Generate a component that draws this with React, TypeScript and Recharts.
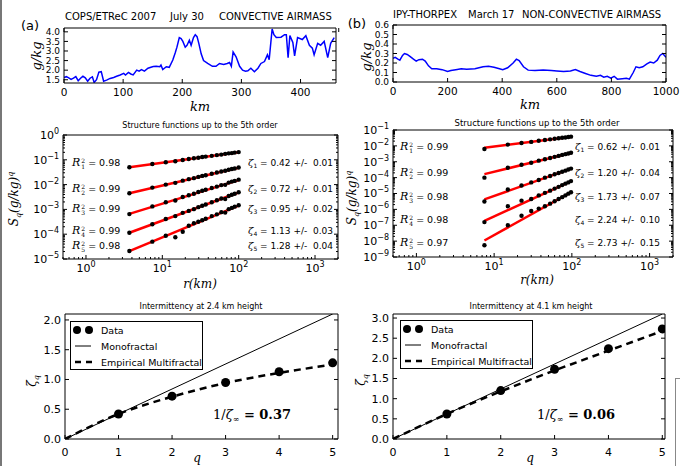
import React from "react"
import { Legend, Line, LineChart, XAxis, YAxis } from "recharts"

const SANS = "'DejaVu Sans', sans-serif"
const SERIF = "'DejaVu Serif', serif"

// (a) COPS flight, specific humidity along track
const kmA = [0, 4, 8, 12, 16, 20, 24, 28, 32, 36, 40, 44, 48, 51, 55, 59, 63, 67, 72, 78, 84, 89, 95, 101, 104, 109, 113, 117, 123, 127, 131, 136, 142, 147, 151, 156, 162, 164, 167, 173, 178, 184, 188, 191, 195, 198, 201, 205, 208, 212, 215, 219, 222, 225, 228, 232, 236, 243, 251, 257, 263, 270, 276, 280, 283, 286, 291, 297, 302, 307, 311, 316, 322, 328, 333, 339, 344, 347, 352, 355, 359, 367, 373, 376, 379, 382, 387, 390, 395, 403, 409, 415, 420, 423, 429, 434, 440, 446, 451, 457]
const humA = [1.62, 1.66, 1.6, 1.52, 1.58, 1.66, 1.45, 1.58, 1.68, 1.6, 1.42, 1.58, 1.65, 1.36, 1.5, 1.9, 1.92, 1.42, 1.48, 1.57, 1.62, 1.68, 1.75, 1.83, 1.75, 1.88, 1.8, 1.75, 2.0, 1.95, 2.03, 1.95, 2.1, 2.15, 2.19, 2.2, 2.18, 2.27, 2.03, 2.18, 2.15, 2.53, 2.9, 3.2, 3.7, 3.65, 3.5, 3.2, 3.3, 3.56, 3.3, 3.7, 3.85, 3.75, 3.4, 2.85, 2.5, 2.35, 2.2, 2.2, 2.35, 2.3, 2.35, 2.4, 2.2, 2.95, 2.7, 2.2, 2.0, 1.95, 1.97, 2.1, 1.92, 2.1, 2.35, 2.45, 2.8, 2.55, 4.15, 3.85, 3.7, 3.72, 3.85, 3.85, 2.65, 3.8, 3.45, 2.75, 3.7, 3.6, 3.8, 3.3, 3.15, 2.8, 3.4, 3.3, 3.5, 2.65, 3.4, 3.7]

// (b) IPY-THORPEX flight
const kmB = [0, 8, 18, 25, 35, 42, 52, 62, 75, 85, 95, 108, 118, 130, 142, 160, 180, 200, 212, 230, 250, 270, 300, 330, 350, 370, 390, 402, 420, 440, 452, 462, 478, 495, 520, 550, 580, 600, 625, 650, 668, 685, 705, 725, 745, 760, 772, 785, 798, 810, 822, 840, 855, 866, 880, 890, 902, 915, 930, 942, 955, 968, 978, 988, 1000]
const humB = [0.25, 0.26, 0.24, 0.23, 0.28, 0.3, 0.29, 0.27, 0.24, 0.22, 0.235, 0.24, 0.22, 0.17, 0.14, 0.14, 0.13, 0.11, 0.12, 0.13, 0.14, 0.135, 0.14, 0.16, 0.165, 0.155, 0.14, 0.13, 0.15, 0.2, 0.24, 0.225, 0.16, 0.125, 0.12, 0.125, 0.12, 0.115, 0.11, 0.115, 0.13, 0.11, 0.09, 0.07, 0.06, 0.07, 0.05, 0.06, 0.04, 0.06, 0.03, 0.035, 0.04, 0.03, 0.1, 0.16, 0.15, 0.16, 0.19, 0.21, 0.2, 0.23, 0.28, 0.3, 0.26]

// structure functions, log10 S_q(r)
const lagA = [3.7, 7.4, 11.1, 14.8, 18.5, 22.2, 25.9, 29.6, 33.3, 37, 44.4, 51.8, 59.2, 66.6, 74, 81.4, 88.8, 100]
const sA1 = [-1.3, -1.17, -1.1, -1.06, -1.01, -0.97, -0.94, -0.92, -0.89, -0.87, -0.84, -0.81, -0.79, -0.76, -0.74, -0.73, -0.71, -0.69]
const sA2 = [-2.35, -2.12, -2.0, -1.93, -1.84, -1.78, -1.74, -1.69, -1.65, -1.62, -1.56, -1.51, -1.47, -1.44, -1.4, -1.37, -1.35, -1.31]
const sA3 = [-3.19, -2.88, -2.71, -2.64, -2.5, -2.43, -2.37, -2.3, -2.25, -2.21, -2.14, -2.08, -2.02, -2.01, -1.92, -1.88, -1.85, -1.8]
const sA4 = [-3.94, -3.6, -3.39, -3.27, -3.14, -3.06, -2.99, -2.91, -2.85, -2.8, -2.71, -2.63, -2.56, -2.58, -2.46, -2.41, -2.37, -2.31]
const sA5 = [-4.68, -4.3, -4.06, -4.12, -3.9, -3.66, -3.56, -3.5, -3.44, -3.38, -3.27, -3.2, -3.11, -3.13, -2.99, -2.94, -2.89, -2.83]
const fitLagA = [3.7, 100]
const fitA = [[-1.3, -0.7], [-2.35, -1.32], [-3.18, -1.82], [-3.94, -2.32], [-4.68, -2.85]]

const lagB = [7.5, 15, 22.5, 30, 37.5, 45, 52.5, 60, 67.5, 75, 82.5, 90, 97.5]
const sB1 = [-2.2, -1.92, -1.82, -1.75, -1.68, -1.63, -1.59, -1.55, -1.52, -1.49, -1.47, -1.44, -1.42]
const sB2 = [-4.0, -3.38, -3.19, -3.06, -2.93, -2.84, -2.76, -2.69, -2.63, -2.57, -2.52, -2.48, -2.43]
const sB3 = [-5.5, -4.75, -4.5, -4.3, -4.15, -4.0, -3.9, -3.79, -3.71, -3.63, -3.56, -3.49, -3.43]
const sB4 = [-6.8, -5.8, -5.45, -5.35, -5.12, -4.96, -4.82, -4.69, -4.58, -4.47, -4.38, -4.3, -4.22]
const sB5 = [-8.26, -7.0, -6.4, -6.1, -5.95, -5.8, -5.64, -5.49, -5.35, -5.23, -5.12, -5.01, -4.92]
const fitLagB = [7.5, 100]
const fitB = [[-2.12, -1.42], [-3.78, -2.43], [-5.37, -3.42], [-6.72, -4.2], [-7.96, -4.89]]

const r2A = [0.98, 0.99, 0.99, 0.99, 0.98]
const r2B = [0.99, 0.99, 0.98, 0.98, 0.97]
const errA = [0.01, 0.01, 0.02, 0.03, 0.04]
const errB = [0.01, 0.04, 0.07, 0.1, 0.15]

// scaling exponents
const orders = [1, 2, 3, 4, 5]
const zetaA = [0.42, 0.72, 0.95, 1.13, 1.28]
const zetaB = [0.62, 1.2, 1.73, 2.24, 2.73]
const monoQ = [0, 5]
const monoA = [0, 2.1]
const monoB = [0, 3.1]
const multiQ = [0, 1, 2, 3, 4, 5]
const multiA = [0, 0.42, 0.71, 0.94, 1.11, 1.25]
const multiB = [0, 0.62, 1.18, 1.7, 2.19, 2.68]

const pts = (xs: number[], ys: number[]) => xs.map((x, i) => ({ x, y: ys[i] }))
const logPts = (xs: number[], ys: number[]) => xs.map((x, i) => ({ x, y: 10 ** ys[i] }))

function logTicks(lo: number, hi: number) {
  const out: number[] = []
  for (let e = Math.floor(Math.log10(lo)); e <= Math.ceil(Math.log10(hi)); e++)
    for (let k = 1; k < 10; k++) {
      const v = k * 10 ** e
      if (v >= lo * 0.999 && v <= hi * 1.001) out.push(v)
    }
  return out
}

function tick(side: string, log?: boolean, fmt?: (v: number) => string, off = 13, size = 11) {
  return (p: any) => {
    const { x, y } = p
    const v: number = p.payload.value
    const e = Math.log10(v)
    const major = !log || Math.abs(e - Math.round(e)) < 1e-6
    const n = major ? 4 : 2
    const d =
      side === "bottom" ? `M${x},${y}v${-n}` : side === "top" ? `M${x},${y}v${n}` : side === "left" ? `M${x},${y}h${n}` : `M${x},${y}h${-n}`
    const labelled = major && (side === "bottom" || side === "left")
    return (
      <g>
        <path d={d} stroke="#000" strokeWidth={1} />
        {labelled && (
          <text
            x={side === "left" ? x - 4 : x}
            y={side === "left" ? y + size * 0.36 : y + off}
            textAnchor={side === "left" ? "end" : "middle"}
            fontSize={size}
            fontFamily={SANS}
            fill="#000"
          >
            {log ? (
              <>
                <tspan>10</tspan>
                <tspan dy={-5} fontSize={8}>{String(Math.round(e)).replace("-", "−")}</tspan>
              </>
            ) : fmt ? fmt(v) : v}
          </text>
        )}
      </g>
    )
  }
}

type AxOpts = {
  x: number[]; y: number[]; xt: number[]; yt: number[]
  xLog?: boolean; yLog?: boolean
  xFmt?: (v: number) => string; yFmt?: (v: number) => string
  off?: number; size?: number; ySize?: number
}

function axes(o: AxOpts) {
  const base = {
    type: "number" as const,
    allowDataOverflow: true,
    tickSize: 0,
    tickMargin: 0,
    tickLine: false,
    interval: 0 as const,
    axisLine: { stroke: "#000", strokeWidth: 1 },
  }
  const xs = o.xLog ? "log" : "linear"
  const ys = o.yLog ? "log" : "linear"
  return [
    <XAxis key="xb" dataKey="x" {...base} scale={xs} domain={o.x} ticks={o.xt} height={20} tick={tick("bottom", o.xLog, o.xFmt, o.off, o.size)} />,
    <XAxis key="xt" xAxisId="top" orientation="top" {...base} scale={xs} domain={o.x} ticks={o.xt} height={1} tick={tick("top", o.xLog)} />,
    <YAxis key="yl" {...base} scale={ys} domain={o.y} ticks={o.yt} width={40} tick={tick("left", o.yLog, o.yFmt, 0, o.ySize ?? o.size)} />,
    <YAxis key="yr" yAxisId="right" orientation="right" {...base} scale={ys} domain={o.y} ticks={o.yt} width={1} tick={tick("right", o.yLog)} />,
  ]
}

function Panel({ box, data, children }: { box: number[]; data?: any[]; children: React.ReactNode }) {
  const [L, T, W, H] = box
  return (
    <div style={{ position: "absolute", left: L - 40, top: T - 9 }}>
      <LineChart width={W + 61} height={H + 29} data={data} margin={{ top: 8, right: 20, bottom: 0, left: 0 }}>
        {children}
      </LineChart>
    </div>
  )
}

function Txt({ x, y, size = 10, font = SANS, italic = false, anchor = "start", rotate = false, children }: any) {
  const tx = anchor === "middle" ? "-50%" : anchor === "end" ? "-100%" : "0"
  return (
    <div
      style={{
        position: "absolute",
        left: x,
        top: y,
        transform: `translate(${tx}, -50%)${rotate ? " rotate(-90deg)" : ""}`,
        whiteSpace: "pre",
        fontSize: size,
        fontFamily: font,
        fontStyle: italic ? "italic" : "normal",
        lineHeight: 1,
        color: "#000",
      }}
    >
      {children}
    </div>
  )
}

function Fits({ rows, xL, xZ, ys, r2, zeta, err }: any) {
  return (
    <>
      {ys.map((y: number, i: number) => (
        <Txt key={"r" + i} x={xL} y={y} size={9.5}>
          <span style={{ fontFamily: SERIF, fontStyle: "italic", fontSize: 11 }}>R</span>
          <span style={{ display: "inline-flex", flexDirection: "column", fontSize: 6, lineHeight: "6px", fontFamily: SERIF, verticalAlign: "middle", marginLeft: 1 }}>
            <span>2</span>
            <span>{rows[i]}</span>
          </span>
          {" = " + r2[i].toFixed(2)}
        </Txt>
      ))}
      {ys.map((y: number, i: number) => (
        <Txt key={"z" + i} x={xZ} y={y} size={9}>
          <span style={{ fontFamily: SERIF, fontStyle: "italic", fontSize: 10 }}>ζ</span>
          <span style={{ fontSize: 6, verticalAlign: "-2px" }}>{rows[i]}</span>
          {" = " + zeta[i].toFixed(2) + " +/-  " + err[i].toFixed(2)}
        </Txt>
      ))}
    </>
  )
}

function LegendBox() {
  const row = { display: "flex", alignItems: "center", height: 16 }
  return (
    <div style={{ width: 133, height: 49, border: "1.5px solid #000", boxSizing: "border-box", background: "#fff", fontFamily: SANS, fontSize: 9.5, color: "#000" }}>
      <div style={row}>
        <svg width={28} height={12}><circle cx={6} cy={6} r={4} fill="#000" /><circle cx={18} cy={6} r={4} fill="#000" /></svg>
        <span style={{ marginLeft: 2 }}>Data</span>
      </div>
      <div style={row}>
        <svg width={28} height={12}><line x1={4} x2={20} y1={6} y2={6} stroke="#000" strokeWidth={1} /></svg>
        <span style={{ marginLeft: 2 }}>Monofractal</span>
      </div>
      <div style={row}>
        <svg width={28} height={12}><line x1={4} x2={21} y1={6} y2={6} stroke="#000" strokeWidth={2.5} strokeDasharray="6 5" /></svg>
        <span style={{ marginLeft: 2 }}>Empirical Multifractal</span>
      </div>
    </div>
  )
}

const oneDec = (v: number) => v.toFixed(1)
const sA = [sA1, sA2, sA3, sA4, sA5]
const sB = [sB1, sB2, sB3, sB4, sB5]

function StructPanel({ box, lag, s, fitLag, fit, y }: any) {
  return (
    <Panel box={box}>
      {axes({ x: [0.5, 2000], y, xt: logTicks(0.5, 2000), yt: logTicks(y[0], y[1]), xLog: true, yLog: true, off: 13 })}
      {fit.map((f: number[], i: number) => (
        <Line key={"f" + i} data={logPts(fitLag, f)} dataKey="y" stroke="#ff0000" strokeWidth={2.5} dot={false} isAnimationActive={false} />
      ))}
      {s.map((v: number[], i: number) => (
        <Line key={"s" + i} data={logPts(lag, v)} dataKey="y" stroke="none" dot={{ r: 2.2, fill: "#000", stroke: "none" }} isAnimationActive={false} />
      ))}
    </Panel>
  )
}

function ZetaPanel({ box, xMax, yMax, yt, mono, multi, zeta, legendAt }: any) {
  return (
    <Panel box={box}>
      {axes({ x: [0, xMax], y: [0, yMax], xt: [0, 1, 2, 3, 4, 5], yt, yFmt: oneDec, off: 17 })}
      <Line data={pts(monoQ, mono)} dataKey="y" stroke="#000" strokeWidth={1} dot={false} isAnimationActive={false} />
      <Line data={pts(multiQ, multi)} dataKey="y" type="monotone" stroke="#000" strokeWidth={2.5} strokeDasharray="7 5" dot={false} isAnimationActive={false} />
      <Line data={pts(orders, zeta)} dataKey="y" stroke="none" dot={{ r: 4.5, fill: "#000", stroke: "none" }} isAnimationActive={false} />
      <Legend
        layout="vertical"
        align="center"
        verticalAlign="middle"
        content={() => <LegendBox />}
        wrapperStyle={{ left: legendAt[0], top: legendAt[1], width: 133, height: 49 }}
      />
    </Panel>
  )
}

export default function App() {
  return (
    <div style={{ position: "absolute", left: 0, top: 0, width: 680, height: 466, background: "#fff", overflow: "hidden", fontFamily: SANS }}>
      {/* top row: humidity series */}
      <Panel box={[64, 28, 272, 55]} data={pts(kmA, humA)}>
        {axes({ x: [0, 460], y: [1.33, 4.2], xt: [0, 100, 200, 300, 400], yt: [1.5, 2, 2.5, 3, 3.5, 4], yFmt: oneDec, off: 13, size: 10.5, ySize: 9 })}
        <Line dataKey="y" stroke="#0000ff" strokeWidth={1.5} dot={false} isAnimationActive={false} />
      </Panel>
      <Panel box={[393, 25, 273, 57]} data={pts(kmB, humB)}>
        {axes({ x: [0, 1000], y: [0, 0.6], xt: [0, 200, 400, 600, 800, 1000], yt: [0, 0.1, 0.2, 0.3, 0.4, 0.5, 0.6], yFmt: oneDec, off: 13, size: 10.5, ySize: 9 })}
        <Line dataKey="y" stroke="#0000ff" strokeWidth={1.5} dot={false} isAnimationActive={false} />
      </Panel>

      <Txt x={30} y={25} size={13} anchor="middle">(a)</Txt>
      <Txt x={65} y={17}>COPS/ETReC 2007</Txt>
      <Txt x={170} y={17}>July 30</Txt>
      <Txt x={219} y={17}>CONVECTIVE AIRMASS</Txt>
      <Txt x={357} y={23} size={13} anchor="middle">(b)</Txt>
      <Txt x={393} y={15}>IPY-THORPEX</Txt>
      <Txt x={468} y={15}>March 17</Txt>
      <Txt x={522} y={15}>NON-CONVECTIVE AIRMASS</Txt>
      <Txt x={36} y={56} size={13} font={SERIF} italic anchor="middle" rotate>g/kg</Txt>
      <Txt x={366} y={57} size={13} font={SERIF} italic anchor="middle" rotate>g/kg</Txt>
      <Txt x={200} y={106} size={13} font={SERIF} italic anchor="middle">km</Txt>
      <Txt x={530} y={104} size={13} font={SERIF} italic anchor="middle">km</Txt>

      {/* middle row: structure functions */}
      <StructPanel box={[63, 135, 275, 124]} lag={lagA} s={sA} fitLag={fitLagA} fit={fitA} y={[1e-5, 1]} />
      <StructPanel box={[393, 130, 280, 127]} lag={lagB} s={sB} fitLag={fitLagB} fit={fitB} y={[1e-9, 1e-1]} />

      <Txt x={200} y={126} size={8} anchor="middle">Structure functions up to the 5th order</Txt>
      <Txt x={537} y={123} size={8.5} anchor="middle">Structure functions up to the 5th order</Txt>
      {[[15, 199], [353, 198]].map(([x, y]) => (
        <Txt key={x} x={x} y={y} size={12} font={SERIF} italic anchor="middle" rotate>
          S<span style={{ fontSize: 8, verticalAlign: "-3px" }}>q</span>(g/kg)<span style={{ fontSize: 8, verticalAlign: "5px" }}>q</span>
        </Txt>
      ))}
      <Txt x={200} y={284} size={12} font={SERIF} italic anchor="middle">r(km)</Txt>
      <Txt x={537} y={280} size={12} font={SERIF} italic anchor="middle">r(km)</Txt>
      <Fits rows={orders} xL={72} xZ={248} ys={[163, 189, 209, 231, 246]} r2={r2A} zeta={zetaA} err={errA} />
      <Fits rows={orders} xL={400} xZ={575} ys={[147, 173, 197, 220, 243]} r2={r2B} zeta={zetaB} err={errB} />

      {/* bottom row: scaling exponents */}
      <ZetaPanel box={[65, 314, 273, 125]} xMax={5.1} yMax={2.1} yt={[0, 0.5, 1, 1.5, 2]} mono={monoA} multi={multiA} zeta={zetaA} legendAt={[45, 16]} />
      <ZetaPanel box={[393, 314, 272, 125]} xMax={5.05} yMax={3.1} yt={[0, 0.5, 1, 1.5, 2, 2.5, 3]} mono={monoB} multi={multiB} zeta={zetaB} legendAt={[47, 15]} />

      <Txt x={201} y={307} size={8} anchor="middle">Intermittency at 2.4 km height</Txt>
      <Txt x={531} y={307} size={8} anchor="middle">Intermittency at 4.1 km height</Txt>
      <Txt x={197} y={458} size={12} font={SERIF} italic anchor="middle">q</Txt>
      <Txt x={530} y={458} size={12} font={SERIF} italic anchor="middle">q</Txt>
      {[[33, 381], [362, 380]].map(([x, y]) => (
        <Txt key={x} x={x} y={y} size={12} font={SERIF} italic anchor="middle" rotate>
          ζ<span style={{ fontSize: 8, verticalAlign: "-3px" }}>q</span>
        </Txt>
      ))}
      {[[213, "0.37"], [537, "0.06"]].map(([x, v]) => (
        <Txt key={x} x={x} y={416} size={13} font={SERIF}>
          1/<i>ζ</i><span style={{ fontSize: 8, verticalAlign: "-3px" }}>∞</span>
          <b>{" = " + v}</b>
        </Txt>
      ))}

      <div style={{ position: "absolute", left: 0, top: 0, width: 2, height: 466, background: "#777" }} />
      <div style={{ position: "absolute", left: 675, top: 378, width: 10, height: 100, borderLeft: "1px solid #888", borderTop: "1px solid #888" }} />
    </div>
  )
}
